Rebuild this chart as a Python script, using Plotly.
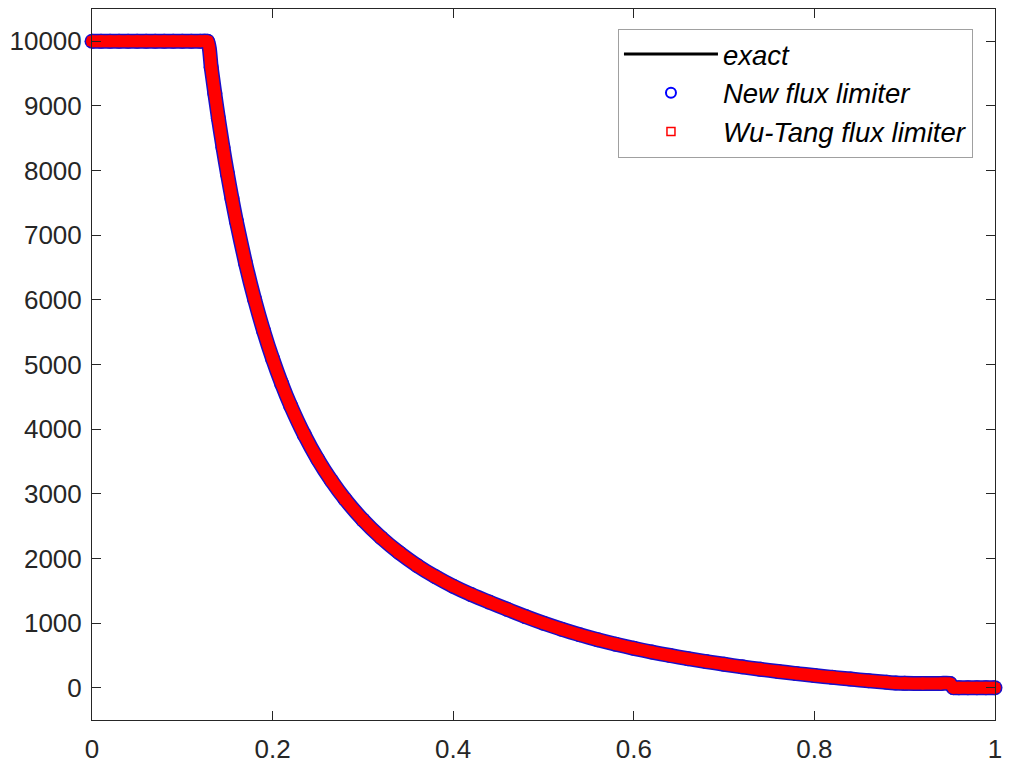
import plotly.graph_objects as go

# ---- data ----
x_vals = [0.0, 0.01, 0.02, 0.03, 0.04, 0.05, 0.06, 0.07, 0.08, 0.09, 0.10, 0.11, 0.12, 0.128,
          0.132, 0.136, 0.14, 0.145, 0.15, 0.155, 0.16, 0.17, 0.18, 0.19, 0.20, 0.21, 0.22,
          0.235, 0.25, 0.265, 0.28, 0.30, 0.32, 0.34, 0.36, 0.38, 0.40, 0.42, 0.44, 0.46,
          0.48, 0.50, 0.52, 0.54, 0.56, 0.58, 0.60, 0.62, 0.64, 0.66, 0.68, 0.70, 0.72,
          0.74, 0.76, 0.78, 0.80, 0.82, 0.84, 0.86, 0.88, 0.89, 0.90, 0.92, 0.94, 0.95,
          0.954, 0.96, 0.97, 0.98, 0.99, 1.0]

v_exact = [10000, 10000, 10000, 10000, 10000, 10000, 10000, 10000, 10000, 10000, 10000, 10000, 10000, 10000,
           9600, 9192, 8809, 8363, 7950, 7567, 7211, 6570, 6011, 5521, 5088, 4704, 4362,
           3915, 3533, 3205, 2920, 2596, 2323, 2091, 1892, 1720, 1570, 1440, 1324, 1212,
           1100, 998, 905, 820, 743, 673, 609, 551, 498, 449, 404, 362, 322,
           285, 250, 218, 188, 160, 133, 107, 83, 72, 67, 66, 66, 66,
           0, 0, 0, 0, 0, 0]

v_new = [10000, 10000, 10000, 10000, 10000, 10000, 10000, 10000, 10000, 10000, 10000, 10000, 10000, 10000,
         9600, 9192, 8809, 8363, 7950, 7567, 7211, 6570, 6011, 5521, 5088, 4704, 4362,
         3915, 3533, 3205, 2920, 2596, 2323, 2091, 1892, 1720, 1570, 1440, 1324, 1212,
         1100, 998, 905, 820, 743, 673, 609, 551, 498, 449, 404, 362, 322,
         285, 250, 218, 188, 160, 133, 107, 83, 72, 67, 66, 66, 66,
         0, 0, 0, 0, 0, 0]

v_wutang = [10000, 10000, 10000, 10000, 10000, 10000, 10000, 10000, 10000, 10000, 10000, 10000, 10000, 10000,
            9600, 9192, 8809, 8363, 7950, 7567, 7211, 6570, 6011, 5521, 5088, 4704, 4362,
            3915, 3533, 3205, 2920, 2596, 2323, 2091, 1892, 1720, 1570, 1440, 1324, 1212,
            1100, 998, 905, 820, 743, 673, 609, 551, 498, 449, 404, 362, 322,
            285, 250, 218, 188, 160, 133, 107, 83, 72, 67, 66, 66, 66,
            0, 0, 0, 0, 0, 0]

x_ticks = [0, 0.2, 0.4, 0.6, 0.8, 1.0]
x_ticklabels = ["0", "0.2", "0.4", "0.6", "0.8", "1"]
y_ticks = [0, 1000, 2000, 3000, 4000, 5000, 6000, 7000, 8000, 9000, 10000]
y_ticklabels = [str(v) for v in y_ticks]

series_names = ["exact", "New flux limiter", "Wu-Tang flux limiter"]

BLUE = "#0000ff"
RED = "#ff0000"
FONT = "Liberation Sans, Arial, sans-serif"

fig = go.Figure()

# exact solution (black line)
fig.add_trace(go.Scatter(x=x_vals, y=v_exact, mode="lines", name=series_names[0],
                         line=dict(color="black", width=3)))

# dense blue band (overlapping circle markers of the new limiter)
fig.add_trace(go.Scatter(x=x_vals, y=v_new, mode="lines+markers", showlegend=False,
                         hoverinfo="skip", cliponaxis=False,
                         line=dict(color="#1a0fc8", width=15, shape="spline", smoothing=0.6),
                         marker=dict(symbol="circle", size=15, color="#1a0fc8", line=dict(width=0))))
fig.add_trace(go.Scatter(x=x_vals, y=v_new, mode="markers", name=series_names[1],
                         cliponaxis=False,
                         marker=dict(symbol="circle-open", size=10, color=BLUE, line=dict(width=2))))

# dense red band (overlapping square markers of the Wu-Tang limiter)
fig.add_trace(go.Scatter(x=x_vals, y=v_wutang, mode="lines+markers", showlegend=False,
                         hoverinfo="skip", cliponaxis=False,
                         line=dict(color=RED, width=12, shape="spline", smoothing=0.6),
                         marker=dict(symbol="circle", size=12, color=RED, line=dict(width=0))))
fig.add_trace(go.Scatter(x=x_vals, y=v_wutang, mode="markers", name=series_names[2],
                         cliponaxis=False,
                         marker=dict(symbol="square-open", size=8, color=RED, line=dict(width=1.5))))

axis_common = dict(ticks="inside", ticklen=9, tickwidth=1, tickcolor="#262626",
                   mirror="ticks", showline=True, linecolor="#262626", linewidth=1,
                   showgrid=False, zeroline=False, automargin=False,
                   tickfont=dict(family=FONT, size=26, color="#262626"))

fig.update_xaxes(range=[0, 1], tickvals=x_ticks, ticktext=x_ticklabels,
                 ticklabelstandoff=6, **axis_common)
fig.update_yaxes(range=[-500, 10500], tickvals=y_ticks, ticktext=y_ticklabels,
                 ticklabelstandoff=4, **axis_common)

fig.update_layout(
    width=1018, height=767,
    margin=dict(l=92, r=23, t=9, b=47, autoexpand=False),
    paper_bgcolor="white", plot_bgcolor="white",
    showlegend=True,
    legend=dict(x=0.9756, y=0.9725, xanchor="right", yanchor="top",
                bgcolor="white", bordercolor="#a0a0a0", borderwidth=1,
                font=dict(family=FONT, size=27.5, color="black", style="italic"),
                itemwidth=94, tracegroupgap=0),
)

fig.write_html("out.html")
